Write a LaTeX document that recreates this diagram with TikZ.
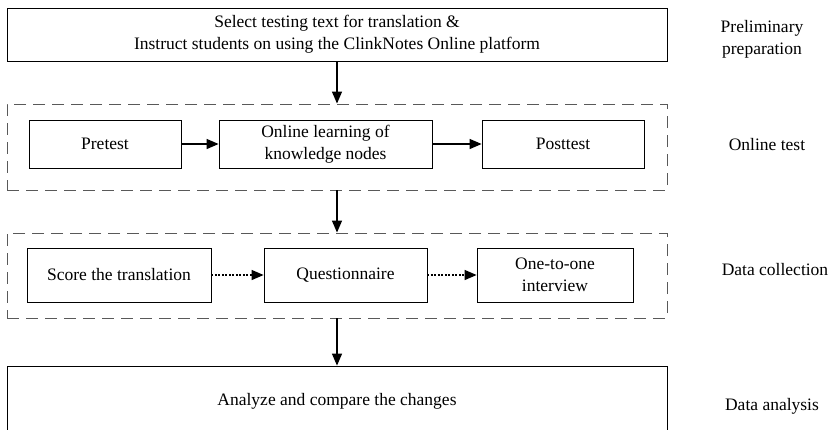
\documentclass[tikz,border=0pt]{standalone}
\usepackage{fontspec}
\setmainfont{Liberation Serif}
\usetikzlibrary{arrows.meta}
\tikzset{
  box/.style={draw, line width=0.8pt, align=center, inner sep=0pt},
  groupbox/.style={draw=black!65, line width=0.9pt, dash pattern=on 12pt off 7pt},
  flow/.style={line width=1.3pt, -{Triangle[length=12pt, width=10pt]}},
  dotflow/.style={line width=1.3pt, dash pattern=on 2pt off 1.5pt, -{Triangle[length=12pt, width=10pt]}},
  stage/.style={align=center}
}
\begin{document}
\begin{tikzpicture}[x=1pt, y=-1pt, font=\fontsize{17.5}{22}\selectfont]
      \useasboundingbox (0,0) rectangle (833,429);
      % stages
      \node[box, minimum width=660pt, minimum height=53pt] (prep) at (337,34.5) {Select testing text for translation \&\\Instruct students on using the ClinkNotes Online platform};
      \node[groupbox, minimum width=660pt, minimum height=86pt] (online) at (337,147) {};
      \node[box, minimum width=152pt, minimum height=48pt] (pre) at (105,144) {Pretest};
      \node[box, minimum width=213pt, minimum height=48pt] (learn) at (325.5,144) {Online learning of\\knowledge nodes};
      \node[box, minimum width=162pt, minimum height=48pt] (post) at (563,144) {Posttest};
      \node[groupbox, minimum width=660pt, minimum height=85pt] (collect) at (337,275.5) {};
      \node[box, minimum width=184pt, minimum height=54pt] (score) at (119,275) {Score the translation};
      \node[box, minimum width=163pt, minimum height=54pt] (quest) at (345.5,275) {Questionnaire};
      \node[box, minimum width=156pt, minimum height=54pt] (inter) at (555,275) {One-to-one\\interview};
      \node[box, minimum width=660pt, minimum height=70pt] (analyze) at (337,401) {Analyze and compare the changes};
      % labels
      \node[stage] (lprep) at (762,39) {Preliminary\\preparation};
      \node[stage] (lonline) at (767,145) {Online test};
      \node[stage] (lcollect) at (775,270) {Data collection};
      \node[stage] (lanalyze) at (772,406) {Data analysis};
      % arrows
      \draw[flow] (prep.south) -- (online.north);
      \draw[flow] (online.south) -- (collect.north);
      \draw[flow] (collect.south) -- (analyze.north);
      \draw[flow] (pre) -- (learn);
      \draw[flow] (learn) -- (post);
      \draw[dotflow] (score) -- (quest);
      \draw[dotflow] (quest) -- (inter);
\end{tikzpicture}
\end{document}
